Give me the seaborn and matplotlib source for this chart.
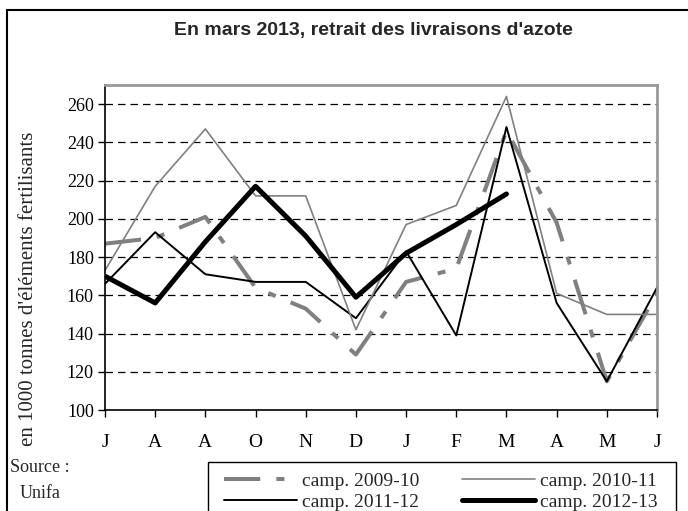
"""
plot.py - Livraisons d'azote par campagne (Unifa)
"""

import numpy as np
import pandas as pd
import matplotlib
matplotlib.use('Agg')
import matplotlib.pyplot as plt
from matplotlib.patches import Rectangle
import seaborn as sns

# Data (1000 t of fertiliser elements, July -> June)
months = ['J', 'A', 'A', 'O', 'N', 'D', 'J', 'F', 'M', 'A', 'M', 'J']
camp_2009_10 = [187, 190, 201, 164, 153, 129, 167, 174, 246, 198, 115, 161]
camp_2010_11 = [173, 217, 247, 212, 212, 142, 197, 207, 264, 161, 150, 150]
camp_2011_12 = [166, 193, 171, 167, 167, 148, 183, 139, 248, 156, 115, 164]
camp_2012_13 = [170, 156, 188, 217, 191, 159, 182, 197, 213]
yticks = [100, 120, 140, 160, 180, 200, 220, 240, 260]

sns.set_theme(style='white')
plt.rcParams['font.family'] = ['Liberation Serif', 'DejaVu Serif']

GRAY = '#808080'

fig = plt.figure(figsize=(6.88, 5.11), dpi=100)
ax = fig.add_axes([105 / 688, 1 - 410 / 511, 552 / 688, 325 / 511])

x_all = np.arange(len(months))
series = [
    ('camp. 2009-10', camp_2009_10, dict(color=GRAY, linewidth=2.9, linestyle=(0, (9, 4, 2, 4)))),
    ('camp. 2011-12', camp_2011_12, dict(color='black', linewidth=1.4)),
    ('camp. 2010-11', camp_2010_11, dict(color=GRAY, linewidth=1.2)),
    ('camp. 2012-13', camp_2012_13, dict(color='black', linewidth=3.6)),
]
for label, values, style in series:
    df = pd.DataFrame({'x': x_all[:len(values)], 'y': values})
    sns.lineplot(data=df, x='x', y='y', ax=ax, label=label, legend=False, **style)

# horizontal dashed grid
for yv in yticks[1:]:
    ax.axhline(yv, color='black', linewidth=0.9, linestyle=(0, (6, 4)), zorder=0)

ax.set_xlim(0, len(months) - 1)
ax.set_ylim(100, 270)
ax.set_xticks(x_all)
ax.set_xticklabels(months)
ax.set_yticks(yticks)
ax.tick_params(axis='both', direction='out', length=5, width=1, colors='black',
               bottom=True, left=True)
ax.tick_params(axis='x', pad=12, labelsize=14)
ax.tick_params(axis='y', pad=3, labelsize=13)
ax.set_xlabel('')
ax.set_ylabel("en 1000 tonnes d'éléments fertilisants", fontsize=15)
ax.yaxis.set_label_coords(38 / 688, 1 - 289 / 511, transform=fig.transFigure)

for side in ['left', 'bottom']:
    ax.spines[side].set_color('black')
    ax.spines[side].set_linewidth(1.2)
for side in ['top', 'right']:
    ax.spines[side].set_color('#999999')
    ax.spines[side].set_linewidth(2)

fig.text(373 / 688, 1 - 30 / 511, "En mars 2013, retrait des livraisons d'azote",
         ha='center', va='center', fontsize=14, fontweight='bold',
         family=['Liberation Sans', 'DejaVu Sans'])

fig.text(10 / 688, 1 - 467 / 511, 'Source :', ha='left', va='center', fontsize=13)
fig.text(20 / 688, 1 - 493 / 511, 'Unifa', ha='left', va='center', fontsize=13)

# outer frame
fig.patches.append(Rectangle((7 / 688, -0.1), 1.1, 1 - 10 / 511 + 0.1,
                             transform=fig.transFigure, fill=False,
                             edgecolor='black', linewidth=1.5))

# legend box (cut by the bottom of the image)
fig.patches.append(Rectangle((208 / 688, -0.1), 468 / 688, 0.1 + 1 - 462 / 511,
                             transform=fig.transFigure, fill=False,
                             edgecolor='black', linewidth=1))

handles, labels = ax.get_legend_handles_labels()
leg = fig.legend(handles, labels, ncol=2, loc='upper left',
                 bbox_to_anchor=(224 / 688, 1 - 472 / 511),
                 fontsize=14, frameon=False,
                 handlelength=3.75, handletextpad=0.25,
                 columnspacing=2.2, borderpad=0, labelspacing=0.2,
                 borderaxespad=0)

fig.savefig('out.png', dpi=100)
